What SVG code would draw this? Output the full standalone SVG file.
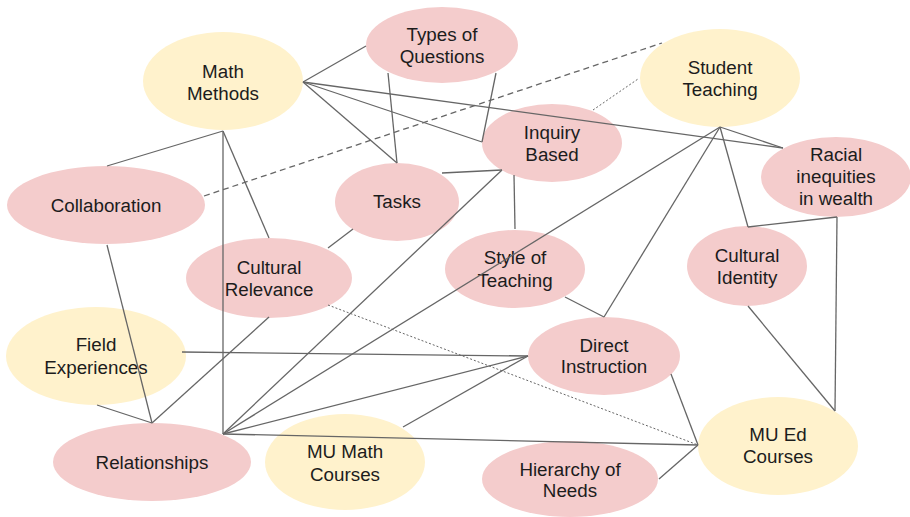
<svg xmlns="http://www.w3.org/2000/svg" width="910" height="517" viewBox="0 0 910 517">
  <style>
    .pink { fill: #f4cccc; }
    .gold { fill: #fff2cc; }
    .lbl { font-family: "Liberation Sans", Arial, sans-serif; font-size: 18.8px; fill: #1c1c1c; text-anchor: middle; }
    .edge { stroke: #666; stroke-width: 1.3; fill: none; }
    .dash { stroke-dasharray: 6 4; }
    .dot { stroke-dasharray: 2 2; stroke-width: 1; }
  </style>
  <rect width="910" height="517" fill="#fff"/>

  <g id="nodes">
    <g id="math-methods">
      <ellipse class="gold" cx="223" cy="81" rx="80" ry="49"/>
      <text class="lbl" x="223" y="78">Math</text>
      <text class="lbl" x="223" y="100">Methods</text>
    </g>
    <g id="types-of-questions">
      <ellipse class="pink" cx="442" cy="45" rx="76" ry="38"/>
      <text class="lbl" x="442" y="41">Types of</text>
      <text class="lbl" x="442" y="63">Questions</text>
    </g>
    <g id="student-teaching">
      <ellipse class="gold" cx="720" cy="78" rx="80" ry="49"/>
      <text class="lbl" x="720" y="74">Student</text>
      <text class="lbl" x="720" y="96">Teaching</text>
    </g>
    <g id="inquiry-based">
      <ellipse class="pink" cx="552" cy="143" rx="70" ry="39"/>
      <text class="lbl" x="552" y="139">Inquiry</text>
      <text class="lbl" x="552" y="161">Based</text>
    </g>
    <g id="racial-inequities">
      <ellipse class="pink" cx="836" cy="177" rx="75" ry="40"/>
      <text class="lbl" x="836" y="161">Racial</text>
      <text class="lbl" x="836" y="183">inequities</text>
      <text class="lbl" x="836" y="205">in wealth</text>
    </g>
    <g id="collaboration">
      <ellipse class="pink" cx="106" cy="205" rx="99" ry="39"/>
      <text class="lbl" x="106" y="212">Collaboration</text>
    </g>
    <g id="tasks">
      <ellipse class="pink" cx="397" cy="202" rx="62" ry="39"/>
      <text class="lbl" x="397" y="208">Tasks</text>
    </g>
    <g id="cultural-relevance">
      <ellipse class="pink" cx="269" cy="278" rx="83" ry="40"/>
      <text class="lbl" x="269" y="274">Cultural</text>
      <text class="lbl" x="269" y="296">Relevance</text>
    </g>
    <g id="style-of-teaching">
      <ellipse class="pink" cx="515" cy="269" rx="70" ry="39"/>
      <text class="lbl" x="515" y="264">Style of</text>
      <text class="lbl" x="515" y="287">Teaching</text>
    </g>
    <g id="cultural-identity">
      <ellipse class="pink" cx="747" cy="266" rx="60" ry="40"/>
      <text class="lbl" x="747" y="262">Cultural</text>
      <text class="lbl" x="747" y="284">Identity</text>
    </g>
    <g id="field-experiences">
      <ellipse class="gold" cx="96" cy="356" rx="90" ry="49"/>
      <text class="lbl" x="96" y="351">Field</text>
      <text class="lbl" x="96" y="374">Experiences</text>
    </g>
    <g id="direct-instruction">
      <ellipse class="pink" cx="604" cy="356" rx="76" ry="39"/>
      <text class="lbl" x="604" y="352">Direct</text>
      <text class="lbl" x="604" y="373">Instruction</text>
    </g>
    <g id="relationships">
      <ellipse class="pink" cx="152" cy="462" rx="99" ry="39"/>
      <text class="lbl" x="152" y="469">Relationships</text>
    </g>
    <g id="mu-math-courses">
      <ellipse class="gold" cx="345" cy="462" rx="80" ry="48"/>
      <text class="lbl" x="345" y="458">MU Math</text>
      <text class="lbl" x="345" y="481">Courses</text>
    </g>
    <g id="hierarchy-of-needs">
      <ellipse class="pink" cx="570" cy="479" rx="88" ry="38"/>
      <text class="lbl" x="570" y="476">Hierarchy of</text>
      <text class="lbl" x="570" y="497">Needs</text>
    </g>
    <g id="mu-ed-courses">
      <ellipse class="gold" cx="778" cy="446" rx="80" ry="49"/>
      <text class="lbl" x="778" y="441">MU Ed</text>
      <text class="lbl" x="778" y="463">Courses</text>
    </g>
  </g>

  <g id="connectors">
    <!-- Math Methods -->
    <line class="edge" x1="303" y1="82" x2="366" y2="46"/>
    <line class="edge" x1="303" y1="82" x2="397" y2="163"/>
    <line class="edge" x1="303" y1="82" x2="482" y2="142"/>
    <line class="edge" x1="303" y1="82" x2="783" y2="148"/>
    <line class="edge" x1="223" y1="131" x2="107" y2="166"/>
    <line class="edge" x1="223" y1="131" x2="269" y2="238"/>
    <line class="edge" x1="223" y1="131" x2="223" y2="434"/>
    <!-- Types of Questions -->
    <line class="edge" x1="388" y1="73" x2="397" y2="163"/>
    <line class="edge" x1="496" y1="73" x2="482" y2="142"/>
    <!-- Student Teaching -->
    <line class="edge" x1="720" y1="127" x2="783" y2="148"/>
    <line class="edge" x1="720" y1="127" x2="223" y2="434"/>
    <line class="edge" x1="720" y1="127" x2="604" y2="317"/>
    <line class="edge" x1="720" y1="127" x2="748" y2="227"/>
    <line class="edge dash" x1="204" y1="196" x2="662" y2="43"/>
    <line class="edge dot" x1="593" y1="110" x2="638" y2="79"/>
    <!-- Tasks / Inquiry / Style -->
    <line class="edge" x1="442" y1="173" x2="502" y2="170"/>
    <line class="edge" x1="353" y1="229" x2="328" y2="248"/>
    <line class="edge" x1="502" y1="170" x2="223" y2="434"/>
    <line class="edge" x1="514" y1="175" x2="515" y2="229"/>
    <line class="edge" x1="565" y1="297" x2="604" y2="317"/>
    <!-- Relationships -->
    <line class="edge" x1="107" y1="245" x2="152" y2="423"/>
    <line class="edge" x1="97" y1="405" x2="152" y2="423"/>
    <line class="edge" x1="269" y1="317" x2="152" y2="423"/>
    <line class="edge" x1="223" y1="434" x2="528" y2="356"/>
    <line class="edge" x1="223" y1="434" x2="698" y2="445"/>
    <!-- Direct Instruction -->
    <line class="edge" x1="182" y1="352" x2="528" y2="356"/>
    <line class="edge" x1="403" y1="427" x2="528" y2="356"/>
    <line class="edge" x1="671" y1="374" x2="698" y2="445"/>
    <!-- MU Ed Courses -->
    <line class="edge dot" x1="328" y1="305" x2="698" y2="445"/>
    <line class="edge" x1="659" y1="479" x2="698" y2="445"/>
    <line class="edge" x1="748" y1="306" x2="835" y2="411"/>
    <line class="edge" x1="837" y1="217" x2="835" y2="411"/>
    <line class="edge" x1="748" y1="227" x2="837" y2="217"/>
  </g>
</svg>
